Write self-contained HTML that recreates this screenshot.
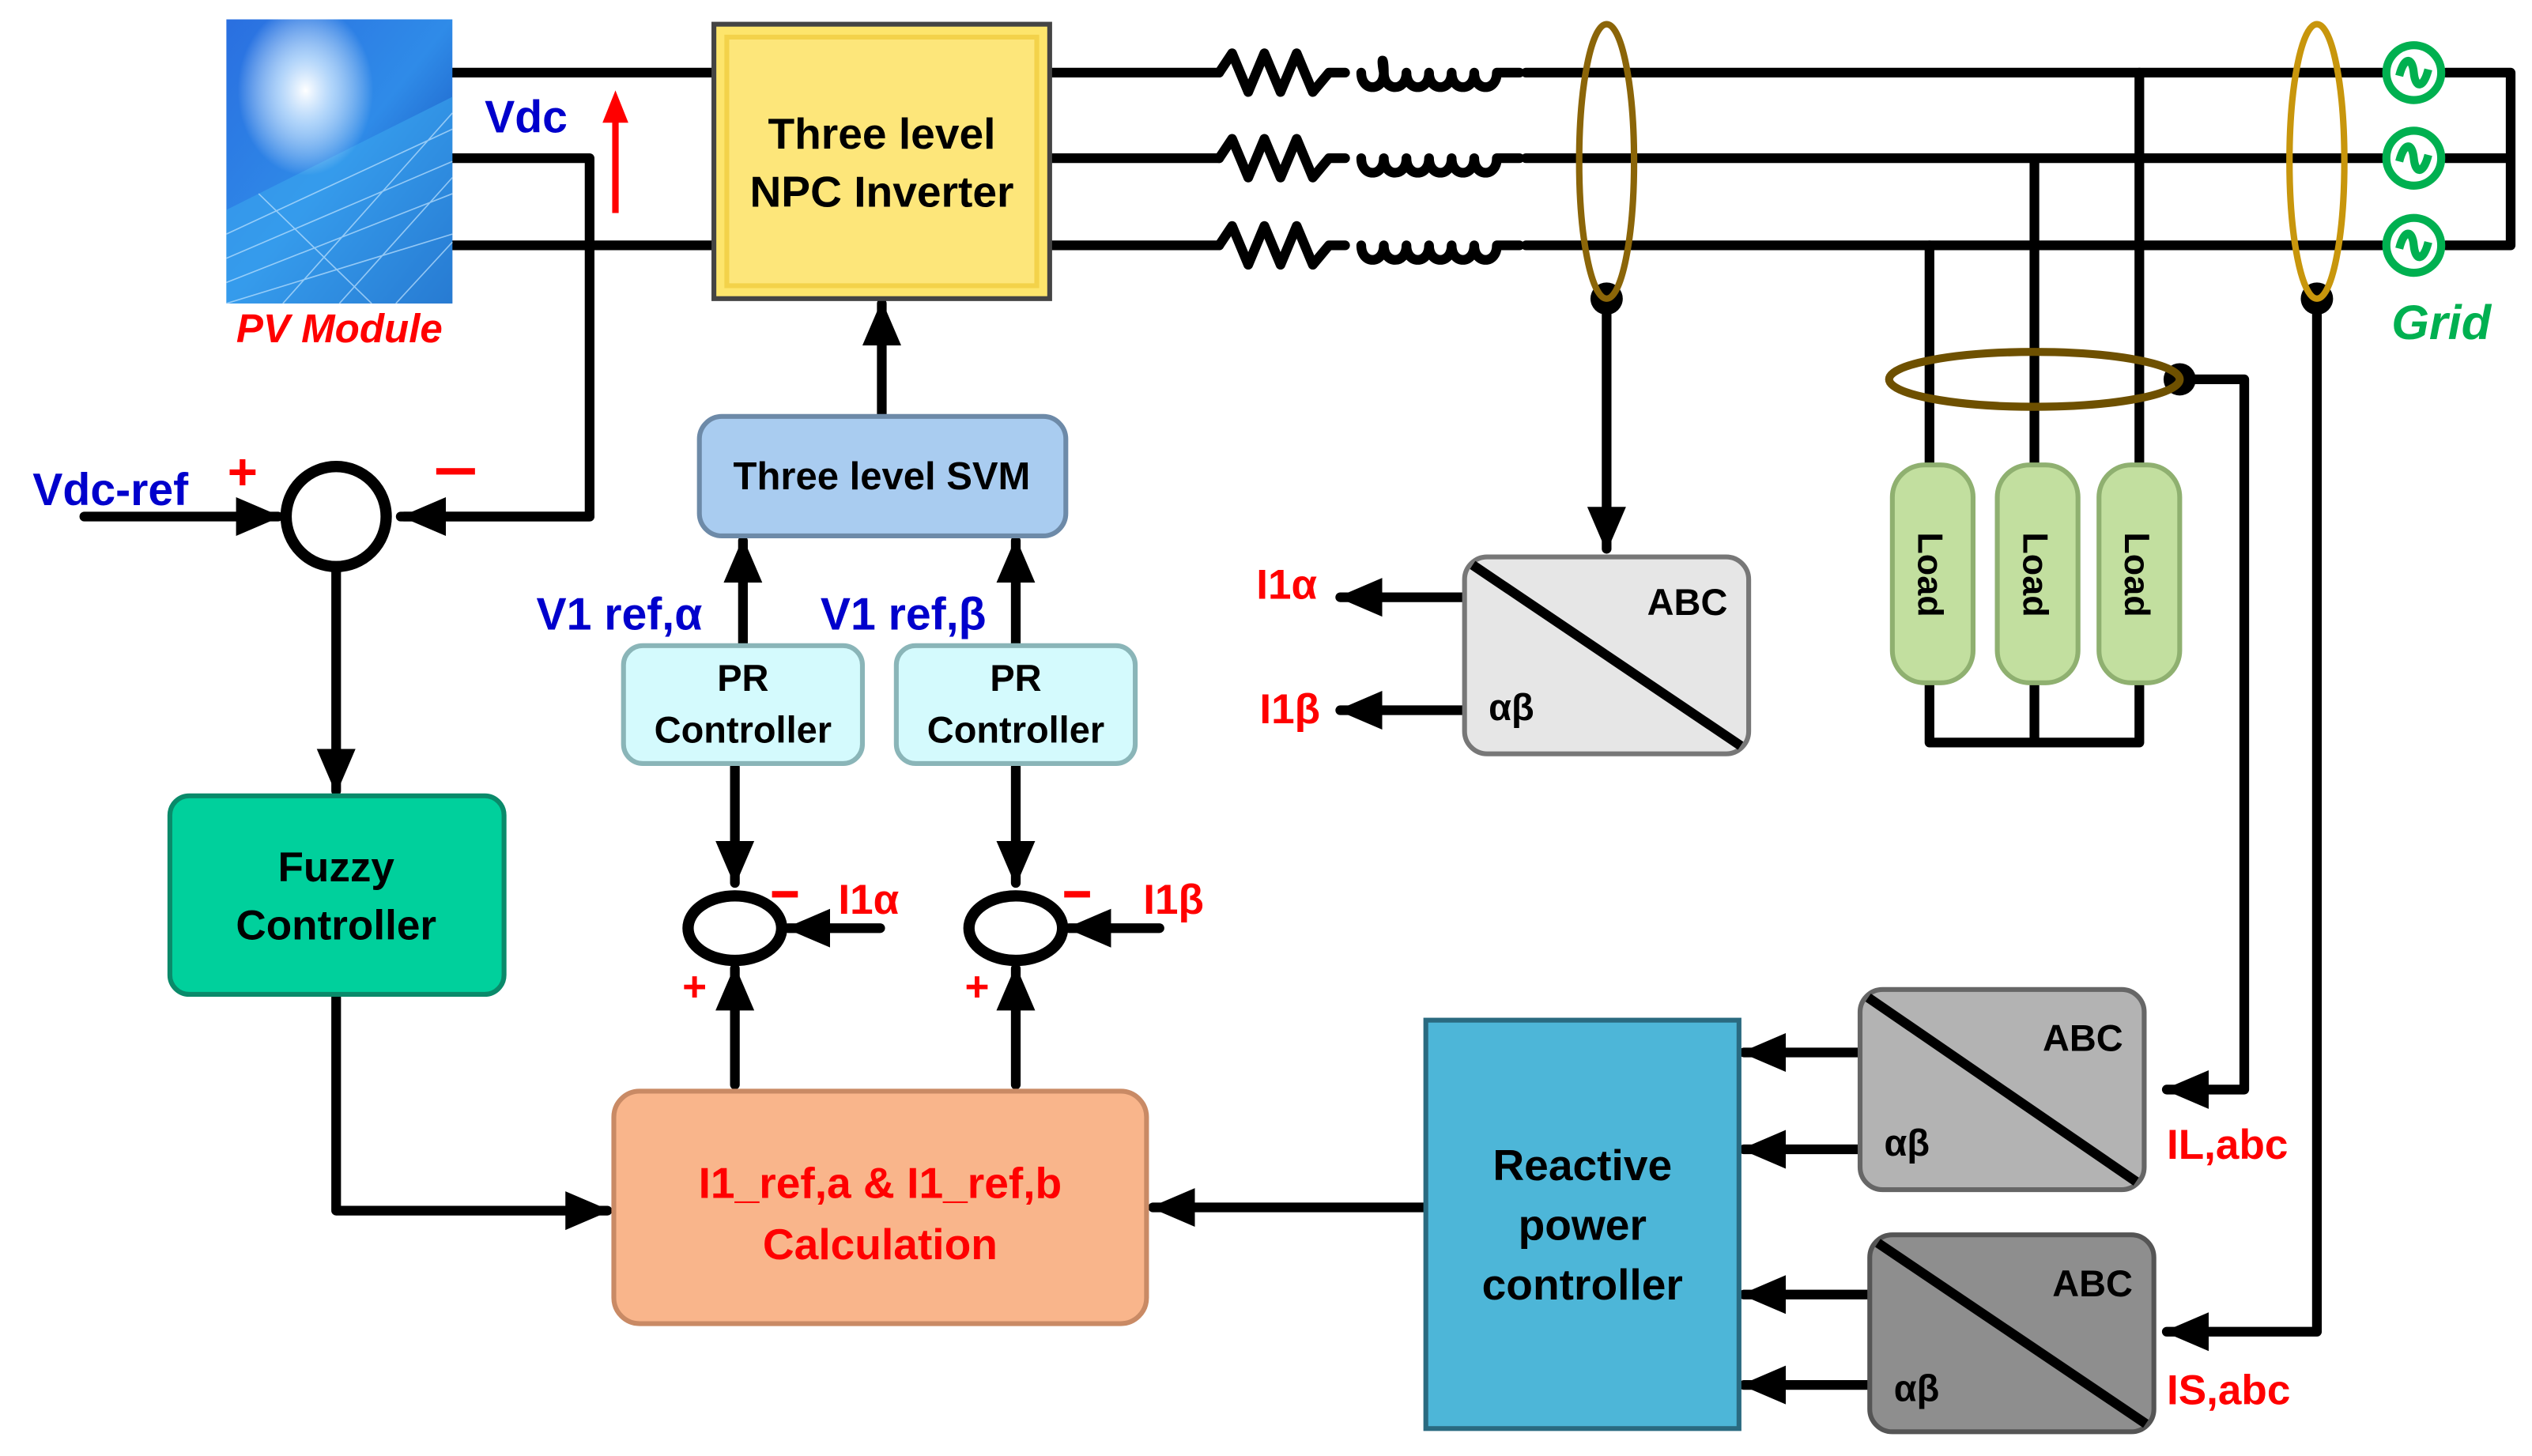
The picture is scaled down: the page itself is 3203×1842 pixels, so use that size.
<!DOCTYPE html>
<html><head><style>html,body{margin:0;padding:0;background:#fff}svg{display:block}</style></head><body>
<svg width="3203" height="1842" viewBox="0 0 1568 902" xmlns="http://www.w3.org/2000/svg" font-family="'Liberation Sans Narrow','Liberation Sans',sans-serif" font-weight="bold">
<defs>
<marker id="a" markerUnits="userSpaceOnUse" markerWidth="30" markerHeight="30" refX="26" refY="15" orient="auto"><path d="M0,3 L28,15 L0,27 Z" fill="#000"/></marker>
<linearGradient id="pv" x1="0" y1="0" x2="1" y2="1"><stop offset="0" stop-color="#2a6fe0"/><stop offset="0.5" stop-color="#2f8be8"/><stop offset="1" stop-color="#0b3aa8"/></linearGradient>
<radialGradient id="sun" cx="0.35" cy="0.25" r="0.3"><stop offset="0" stop-color="#fff"/><stop offset="0.4" stop-color="#cfe8ff" stop-opacity="0.8"/><stop offset="1" stop-color="#fff" stop-opacity="0"/></radialGradient>
</defs>
<g stroke="#000" stroke-width="6" fill="none" stroke-linecap="round" stroke-linejoin="round">
<!-- PV -->
<path d="M280,45 H442 M280,152 H442 M280,98 H365 V320 H248" />
<path d="M365,320 H250" marker-end="url(#a)"/>
<path d="M52,320 H172" marker-end="url(#a)"/>
<path d="M208,352 V490" marker-end="url(#a)"/>
<path d="M208,618 V750 H376" marker-end="url(#a)"/>
<!-- 3 phase lines -->
<path d="M650,45 H755 M945,45 H1475 M650,98 H755 M945,98 H1475 M650,152 H755 M945,152 H1475"/>
<path d="M1515,45 H1555 V152 H1515 M1515,98 H1555"/>
<g stroke-width="6">
<path d="M755,45 l8,-12 l10,24 l10,-24 l10,24 l10,-24 l10,24 l10,-12 h10"/>
<path d="M755,98 l8,-12 l10,24 l10,-24 l10,24 l10,-24 l10,24 l10,-12 h10"/>
<path d="M755,152 l8,-12 l10,24 l10,-24 l10,24 l10,-24 l10,24 l10,-12 h10"/>
<path d="M843,45 c0,12 14,12 14,0 c0,-10 -2,-10 0,0 c0,12 14,12 14,0 c0,12 14,12 14,0 c0,12 14,12 14,0 c0,12 14,12 14,0 c0,12 14,12 14,0 h14"/>
<path d="M843,98 c0,12 14,12 14,0 c0,12 14,12 14,0 c0,12 14,12 14,0 c0,12 14,12 14,0 c0,12 14,12 14,0 c0,12 14,12 14,0 h14"/>
<path d="M843,152 c0,12 14,12 14,0 c0,12 14,12 14,0 c0,12 14,12 14,0 c0,12 14,12 14,0 c0,12 14,12 14,0 c0,12 14,12 14,0 h14"/>
</g>
<!-- loads -->
<path d="M1195,152 V290 M1260,98 V290 M1325,45 V290 M1195,423 V460 H1325 V423 M1260,423 V460"/>
<path d="M1350,235 H1390 V675 H1342" marker-end="url(#a)"/>
<path d="M1435,185 V825 H1342" marker-end="url(#a)"/>
<path d="M995,185 V340" marker-end="url(#a)"/>
<!-- SVM / PR -->
<path d="M546,258 V188" marker-end="url(#a)"/>
<path d="M460,400 V335" marker-end="url(#a)"/>
<path d="M629,400 V335" marker-end="url(#a)"/>
<path d="M455,475 V547" marker-end="url(#a)"/>
<path d="M629,475 V547" marker-end="url(#a)"/>
<path d="M455,672 V600" marker-end="url(#a)"/>
<path d="M629,672 V600" marker-end="url(#a)"/>
<path d="M545,575 H488" marker-end="url(#a)"/>
<path d="M718,575 H662" marker-end="url(#a)"/>
<path d="M883,748 H714" marker-end="url(#a)"/>
<path d="M907,370 H830" marker-end="url(#a)"/>
<path d="M907,440 H830" marker-end="url(#a)"/>
<path d="M1152,652 H1080" marker-end="url(#a)"/>
<path d="M1152,712 H1080" marker-end="url(#a)"/>
<path d="M1158,802 H1080" marker-end="url(#a)"/>
<path d="M1158,858 H1080" marker-end="url(#a)"/>
<circle cx="208" cy="320" r="31" stroke-width="7"/>
<ellipse cx="455" cy="575" rx="29" ry="20" stroke-width="7"/>
<ellipse cx="629" cy="575" rx="29" ry="20" stroke-width="7"/>
</g>
<!-- dots -->
<g fill="#000"><circle cx="995" cy="185" r="10"/><circle cx="1435" cy="185" r="10"/><circle cx="1350" cy="235" r="10"/></g>
<!-- sensors -->
<ellipse cx="995" cy="100" rx="17" ry="85" fill="none" stroke="#8b6508" stroke-width="4"/>
<ellipse cx="1435" cy="100" rx="17" ry="85" fill="none" stroke="#c8960c" stroke-width="4"/>
<ellipse cx="1260" cy="235" rx="90" ry="17" fill="none" stroke="#6e5000" stroke-width="5"/>
<!-- grid sources -->
<g fill="none" stroke="#00b050" stroke-width="5">
<circle cx="1495" cy="45" r="17"/><circle cx="1495" cy="98" r="17"/><circle cx="1495" cy="152" r="17"/>
<path d="M1486,47 c3,-12 8,-12 9,-2 s6,10 9,-2"/><path d="M1486,100 c3,-12 8,-12 9,-2 s6,10 9,-2"/><path d="M1486,154 c3,-12 8,-12 9,-2 s6,10 9,-2"/>
</g>
<text x="1512" y="210" fill="#00b050" font-size="30" font-style="italic" text-anchor="middle">Grid</text>
<!-- PV module -->
<rect x="140" y="12" width="140" height="176" fill="url(#pv)"/>
<path d="M140,188 L140,130 L280,60 L280,188 Z" fill="#3aa6ee" opacity="0.6"/>
<g stroke="#bfe3ff" stroke-width="0.8" opacity="0.7"><path d="M140,145 L280,80 M140,160 L280,100 M140,175 L280,120 M140,188 L280,145 M175,188 L280,70 M210,188 L280,110 M245,188 L280,150 M160,120 L230,188"/></g>
<rect x="140" y="12" width="140" height="176" fill="url(#sun)"/>
<text x="210" y="212" fill="#ff0000" font-size="25" font-style="italic" text-anchor="middle">PV Module</text>
<text x="300" y="82" fill="#0000cc" font-size="28">Vdc</text>
<path d="M381,132 V72" stroke="#ff0000" stroke-width="4"/><path d="M373,76 L381,56 L389,76 Z" fill="#ff0000"/>
<text x="20" y="313" fill="#0000cc" font-size="28">Vdc-ref</text>
<text x="150" y="303" fill="#ff0000" font-size="32" text-anchor="middle">+</text>
<rect x="270" y="290" width="24" height="4" fill="#ff0000"/>
<!-- inverter -->
<rect x="442" y="15" width="208" height="170" fill="#fde56c" stroke="#444" stroke-width="3"/>
<rect x="450" y="23" width="192" height="154" fill="#fde67a" stroke="#f3d24a" stroke-width="3"/>
<text x="546" y="92" font-size="27" text-anchor="middle">Three level</text>
<text x="546" y="128" font-size="27" text-anchor="middle">NPC Inverter</text>
<!-- SVM -->
<rect x="433" y="258" width="227" height="74" rx="14" fill="#a9ccf0" stroke="#6d8aa8" stroke-width="3"/>
<text x="546" y="303" font-size="24" text-anchor="middle">Three level SVM</text>
<text x="332" y="390" fill="#0000cc" font-size="28">V1 ref,α</text>
<text x="508" y="390" fill="#0000cc" font-size="28">V1 ref,β</text>
<!-- PR -->
<rect x="386" y="400" width="148" height="73" rx="12" fill="#d4fafd" stroke="#8ab5b8" stroke-width="3"/>
<rect x="555" y="400" width="148" height="73" rx="12" fill="#d4fafd" stroke="#8ab5b8" stroke-width="3"/>
<g font-size="23" text-anchor="middle"><text x="460" y="428">PR</text><text x="460" y="460">Controller</text><text x="629" y="428">PR</text><text x="629" y="460">Controller</text></g>
<!-- sum labels -->
<g fill="#ff0000" font-size="26"><text x="519" y="566">I1α</text><text x="708" y="566">I1β</text></g>
<rect x="478" y="552" width="16" height="4" fill="#ff0000"/><rect x="659" y="552" width="16" height="4" fill="#ff0000"/>
<g fill="#ff0000" font-size="26" text-anchor="middle"><text x="430" y="620">+</text><text x="605" y="620">+</text></g>
<!-- Fuzzy -->
<rect x="105" y="493" width="207" height="123" rx="12" fill="#00d09c" stroke="#0a8a6a" stroke-width="3"/>
<text x="208" y="546" font-size="26" text-anchor="middle">Fuzzy</text>
<text x="208" y="582" font-size="26" text-anchor="middle">Controller</text>
<!-- Calc -->
<rect x="380" y="676" width="330" height="144" rx="16" fill="#f9b58b" stroke="#c98a65" stroke-width="3"/>
<text x="545" y="742" fill="#ff0000" font-size="27" text-anchor="middle">I1_ref,a  &amp; I1_ref,b</text>
<text x="545" y="780" fill="#ff0000" font-size="27" text-anchor="middle">Calculation</text>
<!-- Reactive -->
<rect x="883" y="632" width="194" height="253" fill="#4db6d8" stroke="#2a6a80" stroke-width="3"/>
<g font-size="27" text-anchor="middle"><text x="980" y="731">Reactive</text><text x="980" y="768">power</text><text x="980" y="805">controller</text></g>
<!-- ABC blocks -->
<rect x="907" y="345" width="176" height="122" rx="14" fill="#e6e6e6" stroke="#777" stroke-width="3"/>
<path d="M912,350 L1078,462" stroke="#000" stroke-width="6"/>
<text x="1045" y="381" font-size="23" text-anchor="middle">ABC</text><text x="936" y="446" font-size="23" text-anchor="middle">αβ</text>
<g fill="#ff0000" font-size="26"><text x="778" y="371">I1α</text><text x="780" y="448">I1β</text></g>
<rect x="1152" y="613" width="176" height="124" rx="14" fill="#b3b3b3" stroke="#666" stroke-width="3"/>
<path d="M1157,618 L1323,732" stroke="#000" stroke-width="6"/>
<text x="1290" y="651" font-size="23" text-anchor="middle">ABC</text><text x="1181" y="716" font-size="23" text-anchor="middle">αβ</text>
<rect x="1158" y="765" width="176" height="122" rx="14" fill="#8e8e8e" stroke="#555" stroke-width="3"/>
<path d="M1163,770 L1329,882" stroke="#000" stroke-width="6"/>
<text x="1296" y="803" font-size="23" text-anchor="middle">ABC</text><text x="1187" y="868" font-size="23" text-anchor="middle">αβ</text>
<g fill="#ff0000" font-size="26"><text x="1342" y="718">IL,abc</text><text x="1342" y="870">IS,abc</text></g>
<!-- loads boxes -->
<g fill="#c2df9f" stroke="#8fb070" stroke-width="3">
<rect x="1172" y="288" width="50" height="135" rx="20"/><rect x="1237" y="288" width="50" height="135" rx="20"/><rect x="1300" y="288" width="50" height="135" rx="20"/>
</g>
<g font-size="22" text-anchor="middle">
<text transform="translate(1188,356) rotate(90)">Load</text>
<text transform="translate(1253,356) rotate(90)">Load</text>
<text transform="translate(1316,356) rotate(90)">Load</text>
</g>
</svg>
</body></html>
